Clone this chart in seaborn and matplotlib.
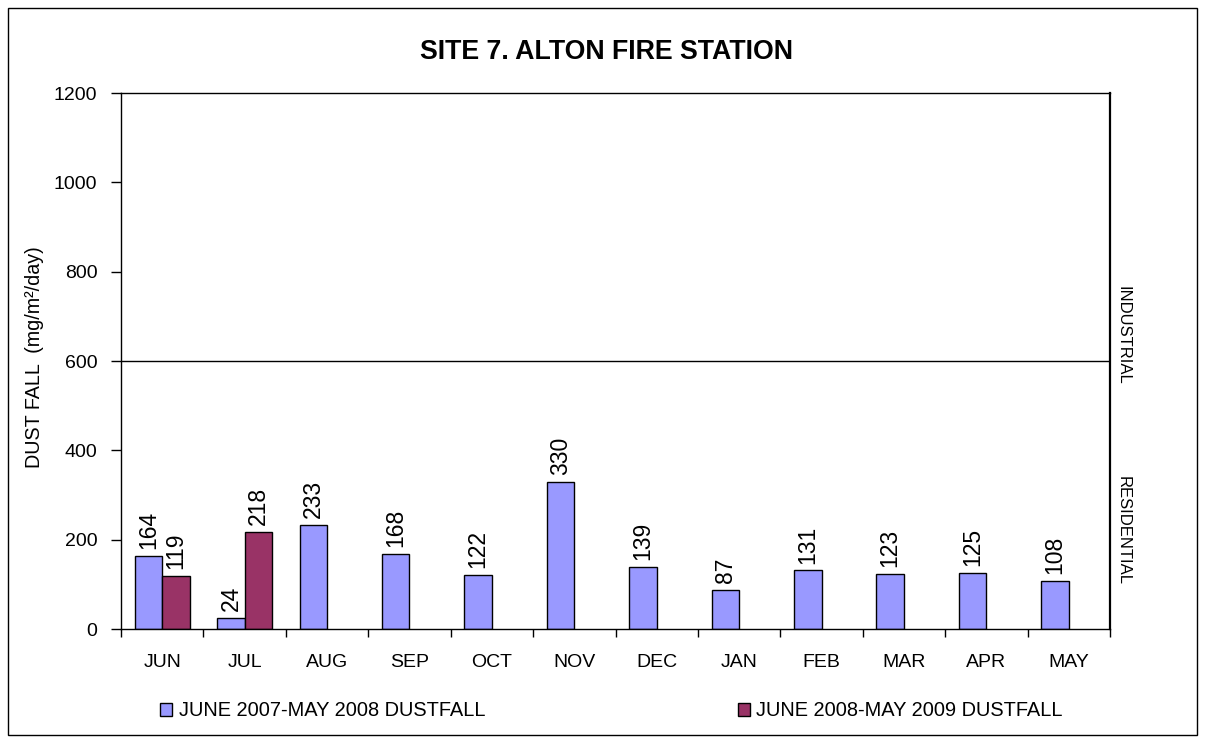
import numpy as np
import pandas as pd
import seaborn as sns
from matplotlib import pyplot as plt
from matplotlib.patches import Patch, Rectangle

months = ['JUN', 'JUL', 'AUG', 'SEP', 'OCT', 'NOV', 'DEC', 'JAN', 'FEB', 'MAR', 'APR', 'MAY']
dust_2007 = [164, 24, 233, 168, 122, 330, 139, 87, 131, 123, 125, 108]
dust_2008 = [119, 218, np.nan, np.nan, np.nan, np.nan, np.nan, np.nan, np.nan, np.nan, np.nan, np.nan]
series_names = ['JUNE 2007-MAY 2008 DUSTFALL', 'JUNE 2008-MAY 2009 DUSTFALL']
series_colors = ['#9999FF', '#993366']
industrial_limit = 600

df = pd.DataFrame({
    'Month': months * 2,
    'Dustfall': dust_2007 + dust_2008,
    'Series': [series_names[0]] * 12 + [series_names[1]] * 12,
})

sns.set_theme(style = 'white')
plt.rcParams['font.family'] = ['Liberation Sans', 'DejaVu Sans']
plt.rcParams['text.color'] = 'black'
plt.rcParams['xtick.color'] = 'black'
plt.rcParams['ytick.color'] = 'black'

fig = plt.figure(figsize = (12.06, 7.43), dpi = 100)
ax = fig.add_axes([121 / 1206, 1 - 629 / 743, (1110 - 121) / 1206, (629 - 93) / 743])

sns.barplot(
    df,
    x = 'Month',
    y = 'Dustfall',
    hue = 'Series',
    hue_order = series_names,
    palette = series_colors,
    width = 0.667,
    edgecolor = 'black',
    linewidth = 1,
    saturation = 1,
    legend = False,
    ax = ax
)

for container in ax.containers:
    labels = ['' if np.isnan(v) else f'{v:.0f}' for v in container.datavalues]
    ax.bar_label(container, labels = labels, rotation = 90, padding = 5, fontsize = 16.5)

ax.axhline(industrial_limit, color = 'black', linewidth = 1)

ax.set_xlim(-0.5, len(months) - 0.5)
ax.set_ylim(0, 1200)
ax.set_yticks(range(0, 1201, 200))
ax.set_xticks(np.arange(-0.5, len(months), 1), minor = True)
ax.tick_params(axis = 'x', which = 'major', length = 0, pad = 18, labelsize = 14)
ax.tick_params(axis = 'x', which = 'minor', length = 6, width = 1, color = 'black', direction = 'out', bottom = True)
ax.tick_params(axis = 'y', length = 7, width = 1, color = 'black', direction = 'out', left = True, pad = 10, labelsize = 14)
ax.set_xlabel('')
ax.set_ylabel('')
for spine in ax.spines.values():
    spine.set_color('black')
    spine.set_linewidth(1)
ax.spines['right'].set_linewidth(1.6)

fig.text(0.5025, 1 - 52 / 743, 'SITE 7. ALTON FIRE STATION', ha = 'center', va = 'center',
         fontsize = 19.3, fontweight = 'bold')
fig.text(35 / 1206, 1 - 357 / 743, 'DUST FALL  (mg/m²/day)', ha = 'center', va = 'center',
         rotation = 90, fontsize = 14.2)
fig.text(1123 / 1206, 1 - 335 / 743, 'INDUSTRIAL', ha = 'center', va = 'center',
         rotation = -90, fontsize = 12)
fig.text(1123 / 1206, 1 - 531 / 743, 'RESIDENTIAL', ha = 'center', va = 'center',
         rotation = -90, fontsize = 12)

handles = [Patch(facecolor = c, edgecolor = 'black', linewidth = 1) for c in series_colors]
fig.legend(
    handles, series_names,
    loc = 'center left',
    bbox_to_anchor = (160 / 1206, 1 - 711 / 743),
    ncol = 2,
    frameon = False,
    fontsize = 14.4,
    handlelength = 0.6,
    handleheight = 0.6,
    handletextpad = 0.35,
    columnspacing = 12.6,
    borderpad = 0,
    borderaxespad = 0
)

fig.patches.append(Rectangle((8 / 1206, 8 / 743), 1189 / 1206, 727 / 743, transform = fig.transFigure,
                             fill = False, edgecolor = 'black', linewidth = 1))

plt.savefig('out.png', dpi = 100)
plt.close()
